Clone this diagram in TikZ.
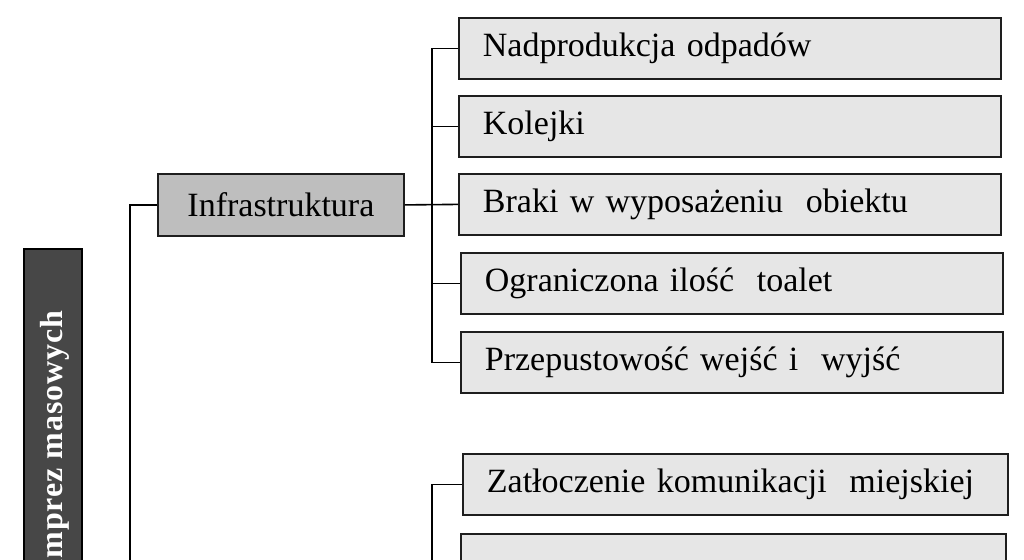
\documentclass[tikz,border=0pt]{standalone}
\usepackage{fontspec}
\setmainfont{Liberation Serif}
\newfontfamily\spacedbold[LetterSpace=3]{Liberation Serif}
\definecolor{darkfill}{HTML}{474747}
\definecolor{midfill}{HTML}{BEBEBE}
\definecolor{lightfill}{HTML}{E6E6E6}
\definecolor{edge}{HTML}{1E1E1E}
\begin{document}
\begin{tikzpicture}[x=1pt,y=-1pt,
  leaf/.style={draw=edge, line width=1.8pt, fill=lightfill, anchor=north west,
    minimum height=61pt, inner xsep=24pt, inner ysep=0pt, align=left,
    font=\fontsize{34}{40}\selectfont},
  midbox/.style={draw=edge, line width=1.8pt, fill=midfill, anchor=north west,
    minimum width=246pt, minimum height=62pt, inner sep=0pt, align=center,
    font=\fontsize{34}{40}\selectfont},
  conn/.style={draw=black, line width=1.6pt}
]
\useasboundingbox (0,0) rectangle (1024,559);
% dark vertical title box
\node[draw=black, line width=1.8pt, fill=darkfill, anchor=north west,
  minimum width=58pt, minimum height=360pt, inner sep=0pt] (title) at (23,248) {};
\node[rotate=90, anchor=base east, inner sep=0pt, text=white,
  font=\fontsize{32}{38}\spacedbold\bfseries] (titletext) at (62,310) {imprez masowych};
% middle box
\node[midbox] (infra) at (157,173) {Infrastruktura};
% leaves
\node[leaf, text width=494pt] (n1) at (458,17) {Nadprodukcja odpadów};
\node[leaf, text width=494pt] (n2) at (458,95) {Kolejki};
\node[leaf, text width=494pt] (n3) at (458,173) {Braki w wyposażeniu\ \ obiektu};
\node[leaf, text width=494pt] (n4) at (460,252) {Ograniczona ilość\ \ toalet};
\node[leaf, text width=494pt] (n5) at (460,331) {Przepustowość wejść i\ \ wyjść};
\node[leaf, text width=497pt] (z1) at (462,453) {Zatłoczenie komunikacji\ \ miejskiej};
\node[leaf, text width=497pt] (z2) at (460,533) {};
% connectors
\coordinate (leftEnd) at (130,620);
\coordinate (lowEnd) at (432,620);
\draw[conn] (infra.west) -| (leftEnd);
\draw[conn] (n1.west) -- ++(-26,0) |- (n5.west);
\draw[conn] (n2.west) -- ++(-26,0);
\draw[conn] (n4.west) -- ++(-28,0);
\draw[conn] (infra.east) -- (n3.west);
\draw[conn] (z1.west) -| (lowEnd);
\end{tikzpicture}
\end{document}
